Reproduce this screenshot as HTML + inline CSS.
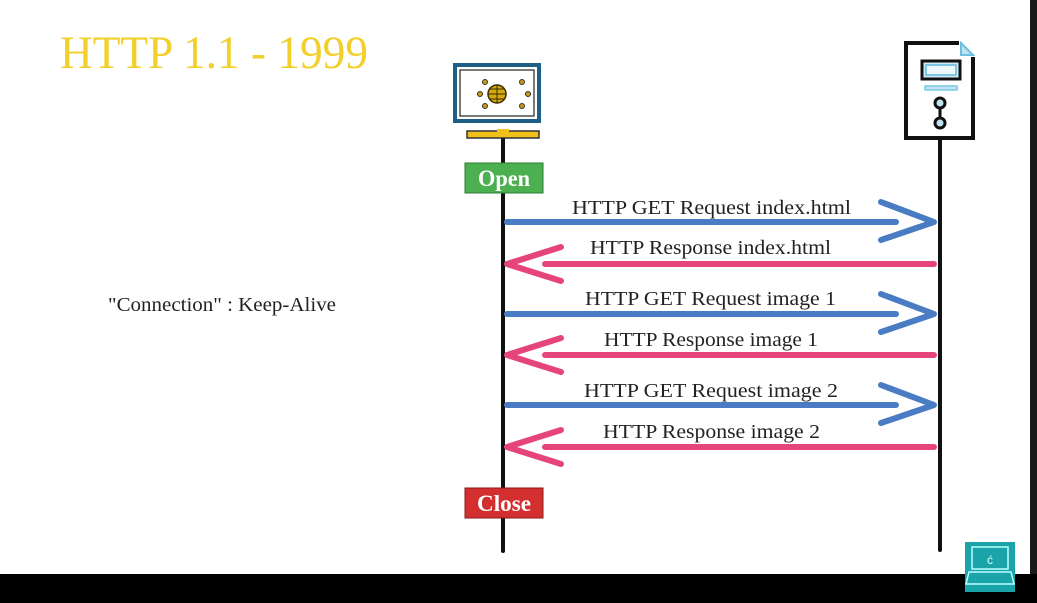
<!DOCTYPE html>
<html><head><style>
html,body{margin:0;padding:0;background:#000;}
svg{display:block;}
</style></head><body>
<svg width="1037" height="603" viewBox="0 0 1037 603" xmlns="http://www.w3.org/2000/svg">
<rect x="0" y="0" width="1037" height="603" fill="#000"/>
<rect x="0" y="0" width="1030" height="574" fill="#fff"/>
<rect x="1030" y="0" width="7" height="574" fill="#1a1a1a"/>
<text x="60" y="68" font-family="Liberation Serif, serif" font-size="47" fill="#f2cf2a" textLength="308" lengthAdjust="spacingAndGlyphs">HTTP 1.1 - 1999</text>
<text x="108" y="311" font-family="Liberation Serif, serif" font-size="20" fill="#222" textLength="228" lengthAdjust="spacingAndGlyphs">"Connection" : Keep-Alive</text>
<!-- lifelines -->
<line x1="503" y1="138" x2="503" y2="551" stroke="#111" stroke-width="4" stroke-linecap="round"/>
<line x1="940" y1="138" x2="940" y2="550" stroke="#111" stroke-width="4" stroke-linecap="round"/>
<!-- monitor -->
<rect x="455" y="65" width="84" height="56" fill="#fff" stroke="#1f5f85" stroke-width="4"/>
<rect x="460" y="70" width="74" height="46" fill="none" stroke="#222" stroke-width="1.2"/>
<circle cx="497" cy="94" r="9" fill="#d4a90f" stroke="#3a2c00" stroke-width="1.5"/>
<path d="M488 94h18M497 85v18M490 89h14M490 99h14" stroke="#3a2c00" stroke-width="1"/>
<g fill="#c89a10" stroke="#333" stroke-width="1">
<circle cx="485" cy="82" r="2.5"/><circle cx="522" cy="82" r="2.5"/><circle cx="480" cy="94" r="2.5"/><circle cx="528" cy="94" r="2.5"/><circle cx="485" cy="106" r="2.5"/><circle cx="522" cy="106" r="2.5"/>
</g>
<rect x="467" y="131" width="72" height="7" fill="#f2c01a" stroke="#333" stroke-width="1.5"/>
<rect x="497" y="129" width="12" height="4" fill="#f2c01a"/>
<!-- server doc -->
<path d="M959 43 H906 V138 H973 V57" fill="#fff" stroke="#111" stroke-width="4"/>
<path d="M961 43 L973 55 H961 Z" fill="#bfe3f0" stroke="#6cc0df" stroke-width="2"/>
<rect x="922" y="61" width="38" height="18" fill="#cfeaf5" stroke="#111" stroke-width="3"/>
<rect x="926" y="65" width="30" height="10" fill="#eef8fc" stroke="#7cc8e4" stroke-width="2"/>
<rect x="925" y="86" width="32" height="4" fill="#bfe3f0" stroke="#7cc8e4" stroke-width="1.5"/>
<line x1="940" y1="103" x2="940" y2="123" stroke="#111" stroke-width="3"/>
<circle cx="940" cy="103" r="5" fill="#bfe3f0" stroke="#111" stroke-width="3"/>
<circle cx="940" cy="123" r="5" fill="#bfe3f0" stroke="#111" stroke-width="3"/>
<!-- boxes -->
<rect x="465" y="163" width="78" height="30" fill="#4caf50" stroke="#2f7a33" stroke-width="1"/>
<text x="504" y="186" text-anchor="middle" font-family="Liberation Serif, serif" font-weight="bold" font-size="23" fill="#fff" textLength="52" lengthAdjust="spacingAndGlyphs">Open</text>
<rect x="465" y="488" width="78" height="30" fill="#d32f2f" stroke="#8a1a1a" stroke-width="1"/>
<text x="504" y="511" text-anchor="middle" font-family="Liberation Serif, serif" font-weight="bold" font-size="23" fill="#fff" textLength="54" lengthAdjust="spacingAndGlyphs">Close</text>
<!-- arrows -->
<g fill="none" stroke-width="6" stroke-linecap="round" stroke-linejoin="round">
<g stroke="#4a7cc4">
<path d="M507 222 H896"/><path d="M881 202 L934 222 L881 240"/>
<path d="M507 314 H896"/><path d="M881 294 L934 314 L881 332"/>
<path d="M507 405 H896"/><path d="M881 385 L934 405 L881 423"/>
</g>
<g stroke="#e6457a">
<path d="M545 264 H934"/><path d="M561 247 L507 264 L561 281"/>
<path d="M545 355 H934"/><path d="M561 338 L507 355 L561 372"/>
<path d="M545 447 H934"/><path d="M561 430 L507 447 L561 464"/>
</g>
</g>
<g font-family="Liberation Serif, serif" font-size="20" fill="#222">
<text x="572" y="214" textLength="279" lengthAdjust="spacingAndGlyphs">HTTP GET Request index.html</text>
<text x="590" y="254" textLength="241" lengthAdjust="spacingAndGlyphs">HTTP Response index.html</text>
<text x="585" y="305" textLength="251" lengthAdjust="spacingAndGlyphs">HTTP GET Request image 1</text>
<text x="604" y="346" textLength="214" lengthAdjust="spacingAndGlyphs">HTTP Response image 1</text>
<text x="584" y="397" textLength="254" lengthAdjust="spacingAndGlyphs">HTTP GET Request image 2</text>
<text x="603" y="438" textLength="217" lengthAdjust="spacingAndGlyphs">HTTP Response image 2</text>
</g>
<!-- logo -->
<rect x="965" y="542" width="50" height="50" fill="#1aa3a8"/>
<rect x="972" y="547" width="36" height="22" fill="none" stroke="#bff" stroke-width="1.5"/>
<text x="990" y="564" text-anchor="middle" font-family="Liberation Sans, sans-serif" font-size="12" fill="#dff">ć</text>
<path d="M969 572 H1011 L1014 584 H966 Z" fill="none" stroke="#bff" stroke-width="1.5"/>
</svg>
</body></html>
